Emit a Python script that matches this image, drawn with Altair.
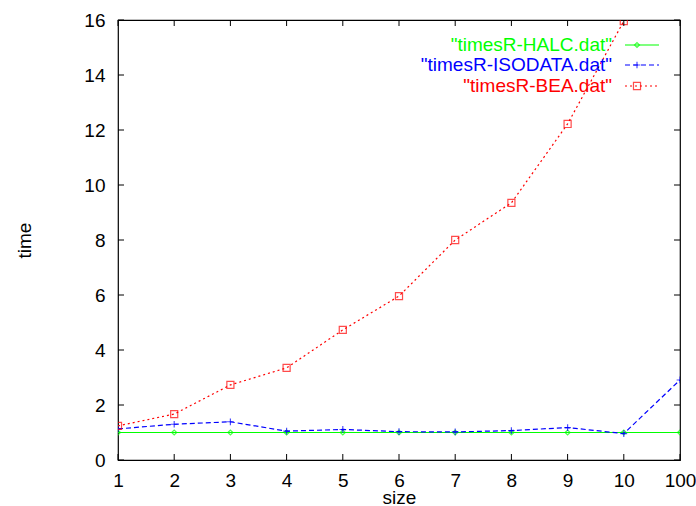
import altair as alt
import pandas as pd

sizes = ["1", "2", "3", "4", "5", "6", "7", "8", "9", "10", "100"]
halc = [1.0, 1.0, 1.0, 1.0, 1.0, 1.0, 1.0, 1.0, 1.0, 1.0, 1.0]
isodata = [1.13, 1.3, 1.39, 1.05, 1.11, 1.03, 1.02, 1.07, 1.18, 0.96, 2.91]
bea_sizes = ["1", "2", "3", "4", "5", "6", "7", "8", "9", "10"]
bea = [1.24, 1.67, 2.73, 3.35, 4.73, 5.96, 8.0, 9.35, 12.22, 15.96]
y_ticks = [0, 2, 4, 6, 8, 10, 12, 14, 16]
series_names = ['"timesR-HALC.dat"', '"timesR-ISODATA.dat"', '"timesR-BEA.dat"']
series_colors = ["#00ff00", "#0000ff", "#ff0000"]

W, H = 562, 440
FONT = "Liberation Sans"
FS = 19

df_h = pd.DataFrame({"size": sizes, "time": halc})
df_i = pd.DataFrame({"size": sizes, "time": isodata})
df_b = pd.DataFrame({"size": bea_sizes, "time": bea})

xs = alt.Scale(domain=sizes, type="point", padding=0)
ys = alt.Scale(domain=[0, 16], nice=False)

xenc = alt.X("size:O", scale=xs, sort=sizes,
             axis=alt.Axis(title="size", labelAngle=0, ticks=False, domain=False,
                           labelFontSize=FS, titleFontSize=FS, labelFont=FONT, titleFont=FONT,
                           labelColor="black", titleColor="black", titleFontWeight="normal",
                           labelPadding=11, titlePadding=-2, grid=False))
yenc = alt.Y("time:Q", scale=ys,
             axis=alt.Axis(title="time", values=y_ticks, ticks=False, domain=False,
                           labelFontSize=FS, titleFontSize=FS, labelFont=FONT, titleFont=FONT,
                           labelColor="black", titleColor="black", titleFontWeight="normal",
                           labelPadding=13, titlePadding=49, grid=False))

def series(df, color, dash, shape, size=40):
    line = alt.Chart(df).mark_line(color=color, strokeWidth=1.2, strokeDash=dash, clip=True).encode(x=xenc, y=yenc)
    pts = alt.Chart(df).mark_point(color=color, shape=shape, size=size, filled=False, strokeWidth=1.2, clip=True).encode(x=xenc, y=yenc)
    return line + pts

plus = "M-1,0L1,0M0,-1L0,1"
green = series(df_h, series_colors[0], [1, 0], "diamond", size=25)
blue = series(df_i, series_colors[1], [5, 3], plus, size=45)
red = series(df_b, series_colors[2], [2, 3], "square", size=50)

# inward ticks
yt = pd.DataFrame({"t": y_ticks})
xt = pd.DataFrame({"size": sizes})
ytick_l = alt.Chart(yt).mark_rule(color="black").encode(y=alt.Y("t:Q", scale=ys), x=alt.value(0), x2=alt.value(6))
ytick_r = alt.Chart(yt).mark_rule(color="black").encode(y=alt.Y("t:Q", scale=ys), x=alt.value(W - 6), x2=alt.value(W))
xtick_b = alt.Chart(xt).mark_rule(color="black").encode(x=alt.X("size:O", scale=xs, sort=sizes), y=alt.value(H - 6), y2=alt.value(H))
xtick_t = alt.Chart(xt).mark_rule(color="black").encode(x=alt.X("size:O", scale=xs, sort=sizes), y=alt.value(0), y2=alt.value(6))

# legend (gnuplot style: text then sample)
rows_y = [25, 45, 66]
dashes = [[1, 0], [5, 3], [2, 3]]
shapes = ["diamond", plus, "square"]
psizes = [25, 45, 50]
legend = []
for name, c, yy, d, sh, ps in zip(series_names, series_colors, rows_y, dashes, shapes, psizes):
    ld = pd.DataFrame({"name": [name]})
    legend.append(alt.Chart(ld).mark_text(align="right", baseline="middle", fontSize=FS, font=FONT, color=c)
                  .encode(text="name:N", x=alt.value(494), y=alt.value(yy)))
    legend.append(alt.Chart(ld).mark_rule(color=c, strokeWidth=1.2, strokeDash=d)
                  .encode(x=alt.value(507), x2=alt.value(541), y=alt.value(yy)))
    legend.append(alt.Chart(ld).mark_point(color=c, shape=sh, size=ps, strokeWidth=1.2, filled=False)
                  .encode(x=alt.value(519), y=alt.value(yy)))

chart = alt.layer(green, blue, red, ytick_l, ytick_r, xtick_b, xtick_t, *legend).properties(
    width=W, height=H,
    padding={"left": 118, "top": 20, "right": 16, "bottom": 46},
    autosize=alt.AutoSizeParams(type="none"),
    background="white",
).configure_view(stroke="black", strokeWidth=1.2)

chart.save("out.html", embed_options={"renderer": "svg", "actions": False})
